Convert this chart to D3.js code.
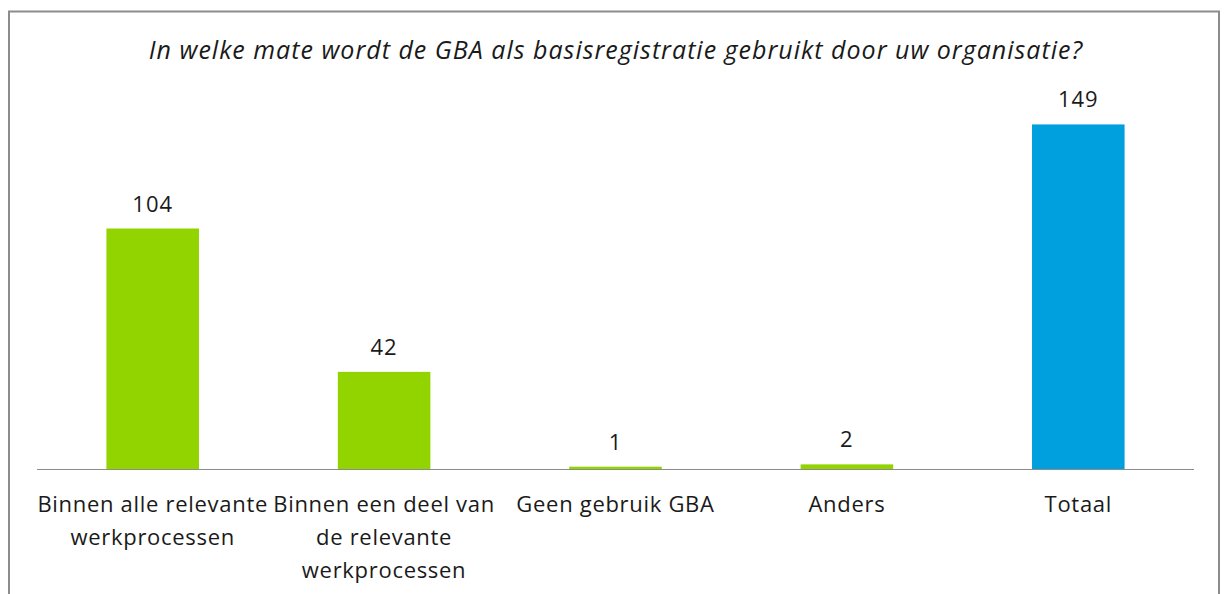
<!DOCTYPE html>
<html>
<head>
<meta charset="utf-8">
<script src="https://cdn.jsdelivr.net/npm/d3@7"></script>
<style>
  body { margin: 0; background: #fff; }
  svg text { font-family: "Open Sans", Lato, sans-serif; fill: #1a1a1a; }
</style>
</head>
<body>
<div id="graphicContainer"></div>
<script>

const title = "In welke mate wordt de GBA als basisregistratie gebruikt door uw organisatie?"

const categories = [
  "Binnen alle relevante\nwerkprocessen",
  "Binnen een deel van\nde relevante\nwerkprocessen",
  "Geen gebruik GBA",
  "Anders",
  "Totaal"
]

const values = [104, 42, 1, 2, 149]

const barColors = ["#92d400", "#92d400", "#92d400", "#92d400", "#00a0df"]

const data = categories.map((c, i) => ({ label: c, value: values[i], color: barColors[i] }))

const width = 1224
const height = 594

const svg = d3.select("#graphicContainer").append("svg")
  .attr("width", width)
  .attr("height", height)

// outer frame
svg.append("rect")
  .attr("x", 9)
  .attr("y", 11.5)
  .attr("width", 1210)
  .attr("height", 600)
  .attr("fill", "none")
  .attr("stroke", "#8c8c8c")
  .attr("stroke-width", 2)

svg.append("text")
  .attr("x", 616)
  .attr("y", 59)
  .attr("text-anchor", "middle")
  .style("font-style", "italic")
  .style("font-size", "25px")
  .style("letter-spacing", "1px")
  .text(title)

const x = d3.scaleBand()
  .domain(categories)
  .range([37, 1194])
  .paddingInner(0.6)
  .paddingOuter(0.3)

const y = d3.scaleLinear()
  .domain([0, 160])
  .range([469, 99])

svg.append("g")
  .selectAll("rect")
  .data(data)
  .enter()
  .append("rect")
  .attr("x", d => x(d.label))
  .attr("y", d => y(d.value))
  .attr("width", x.bandwidth())
  .attr("height", d => y(0) - y(d.value))
  .attr("fill", d => d.color)

// axis line
svg.append("line")
  .attr("x1", 37)
  .attr("x2", 1194)
  .attr("y1", y(0) + 0.5)
  .attr("y2", y(0) + 0.5)
  .attr("stroke", "#8c8c8c")
  .attr("stroke-width", 1)

svg.append("g")
  .selectAll("text")
  .data(data)
  .enter()
  .append("text")
  .attr("x", d => x(d.label) + x.bandwidth() / 2)
  .attr("y", d => y(d.value) - 17)
  .attr("text-anchor", "middle")
  .style("font-size", "22px")
  .style("letter-spacing", "1px")
  .text(d => d.value)

const catLabels = svg.append("g")
  .selectAll("text")
  .data(data)
  .enter()
  .append("text")
  .attr("x", d => x(d.label) + x.bandwidth() / 2)
  .attr("y", 512)
  .attr("text-anchor", "middle")
  .style("font-size", "22px")
  .style("letter-spacing", "0.7px")

catLabels.selectAll("tspan")
  .data(d => d.label.split("\n").map(t => ({ t, cx: x(d.label) + x.bandwidth() / 2 })))
  .enter()
  .append("tspan")
  .attr("x", d => d.cx)
  .attr("dy", (d, i) => i === 0 ? 0 : 33)
  .text(d => d.t)

</script>
</body>
</html>
